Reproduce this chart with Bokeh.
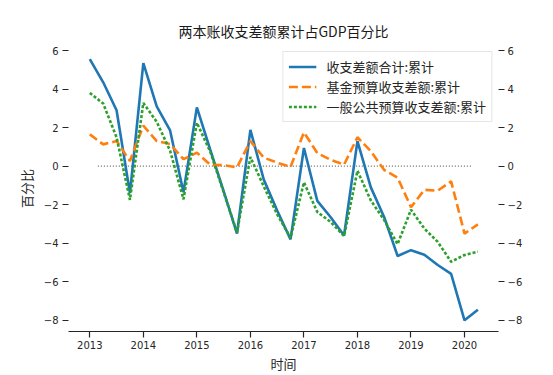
from bokeh.plotting import figure
from bokeh.models import (ColumnDataSource, Range1d, LinearAxis, FixedTicker,
                          Legend, LegendItem)
from bokeh.embed import file_html
from bokeh.resources import INLINE

# ---------------- data ----------------
QUARTERS = ["2013Q1", "2013Q2", "2013Q3", "2013Q4",
            "2014Q1", "2014Q2", "2014Q3", "2014Q4",
            "2015Q1", "2015Q2", "2015Q3", "2015Q4",
            "2016Q1", "2016Q2", "2016Q3", "2016Q4",
            "2017Q1", "2017Q2", "2017Q3", "2017Q4",
            "2018Q1", "2018Q2", "2018Q3", "2018Q4",
            "2019Q1", "2019Q2", "2019Q3", "2019Q4",
            "2020Q1", "2020Q2"]

TOTAL = [5.55, 4.35, 2.9, -1.4, 5.35, 3.1, 1.85, -1.35,
         3.05, 0.85, -1.3, -3.5, 1.88, -0.7, -2.3, -3.8,
         0.94, -1.8, -2.65, -3.6, 1.3, -1.1, -2.65, -4.66,
         -4.36, -4.6, -5.13, -5.59, -8.0, -7.45]

FUND = [1.65, 1.13, 1.3, 0.27, 2.1, 1.3, 1.15, 0.36,
        0.7, 0.07, 0.05, -0.06, 1.3, 0.44, 0.18, -0.04,
        1.75, 0.68, 0.33, 0.08, 1.5, 0.77, -0.2, -0.6,
        -2.13, -1.23, -1.27, -0.79, -3.5, -3.02]

GENERAL = [3.8, 3.25, 1.5, -1.75, 3.28, 2.3, 0.8, -1.72,
           2.25, 0.75, -1.35, -3.45, 0.47, -1.05, -2.5, -3.72,
           -0.84, -2.38, -2.9, -3.63, -0.24, -1.78, -2.8, -4.05,
           -2.26, -3.24, -3.93, -4.96, -4.61, -4.44]

SERIES_NAMES = ["收支差额合计:累计", "基金预算收支差额:累计", "一般公共预算收支差额:累计"]
X_TICKS = [2013, 2014, 2015, 2016, 2017, 2018, 2019, 2020]
Y_TICKS = [-8, -6, -4, -2, 0, 2, 4, 6]
ZERO_LINE_X = [2013.15, 2020.15]

TITLE = "两本账收支差额累计占GDP百分比"
X_LABEL = "时间"
Y_LABEL = "百分比"

# ------------- helpers -------------
def quarter_pos(q):
    year, qn = q.split("Q")
    return int(year) + (int(qn) - 1) / 4.0

x = [quarter_pos(q) for q in QUARTERS]
src = ColumnDataSource(dict(x=x, total=TOTAL, fund=FUND, general=GENERAL))

CJK = "Noto Sans CJK SC"
TXT = "#262626"

p = figure(width=553, height=375, output_backend="svg", toolbar_location=None,
           x_range=Range1d(2012.602, 2020.635), y_range=Range1d(-8.58, 6.26),
           min_border_left=68, min_border_right=55, min_border_top=45,
           min_border_bottom=42, title=TITLE)

p.title.text_font = CJK
p.title.text_font_size = "14px"
p.title.text_font_style = "normal"
p.title.text_color = "#1a1a1a"
p.title.align = "center"

p.outline_line_color = None
p.xgrid.visible = False
p.ygrid.visible = False

# zero reference line
p.line(x=ZERO_LINE_X, y=[0, 0], line_color="#666666", line_width=1.2,
       line_dash="1 2")

r_total = p.line("x", "total", source=src, line_color="#1f77b4", line_width=2.6)
r_fund = p.line("x", "fund", source=src, line_color="#ff7f0e", line_width=2.6,
                line_dash="9 4")
r_gen = p.line("x", "general", source=src, line_color="#2ca02c", line_width=2.6,
               line_dash="3 2")

def minus(v):
    return str(v).replace("-", "\u2212")

# bottom axis
xa = p.xaxis[0]
xa.ticker = FixedTicker(ticks=X_TICKS)
xa.major_label_overrides = {t: str(t) for t in X_TICKS}
xa.axis_label = X_LABEL

# left axis
ya = p.yaxis[0]
ya.ticker = FixedTicker(ticks=Y_TICKS)
ya.major_label_overrides = {t: minus(t) for t in Y_TICKS}
ya.axis_label = Y_LABEL

# right axis
ra = LinearAxis()
ra.ticker = FixedTicker(ticks=Y_TICKS)
ra.major_label_overrides = {t: minus(t) for t in Y_TICKS}
p.add_layout(ra, "right")

for ax in (xa, ya, ra):
    ax.major_label_text_font = "DejaVu Sans"
    ax.major_label_text_font_size = "10px"
    ax.major_label_text_color = TXT
    ax.major_tick_out = 6
    ax.major_tick_in = 0
    ax.major_tick_line_color = TXT
    ax.major_tick_line_width = 1.2
    ax.minor_tick_line_color = None
    ax.axis_label_text_font = CJK
    ax.axis_label_text_font_size = "13px"
    ax.axis_label_text_font_style = "normal"
    ax.axis_label_text_color = TXT

xa.axis_line_color = TXT
xa.axis_line_width = 1.2
xa.major_label_standoff = 3
xa.axis_label_standoff = 2
ya.axis_line_color = None
ya.major_label_standoff = 4
ya.axis_label_standoff = 5
ra.axis_line_color = None
ra.major_label_standoff = 3

legend = Legend(items=[LegendItem(label=SERIES_NAMES[0], renderers=[r_total]),
                       LegendItem(label=SERIES_NAMES[1], renderers=[r_fund]),
                       LegendItem(label=SERIES_NAMES[2], renderers=[r_gen])],
                location="top_right")
legend.label_text_font = CJK
legend.label_text_font_size = "13px"
legend.label_text_color = TXT
legend.glyph_width = 28
legend.glyph_height = 15
legend.label_height = 15
legend.label_standoff = 10
legend.spacing = 1
legend.padding = 5
legend.margin = 6
legend.border_line_color = "#cccccc"
legend.border_line_width = 1
legend.background_fill_color = "white"
legend.background_fill_alpha = 0.85
p.add_layout(legend)

open("out.html", "w").write(file_html(p, INLINE))
